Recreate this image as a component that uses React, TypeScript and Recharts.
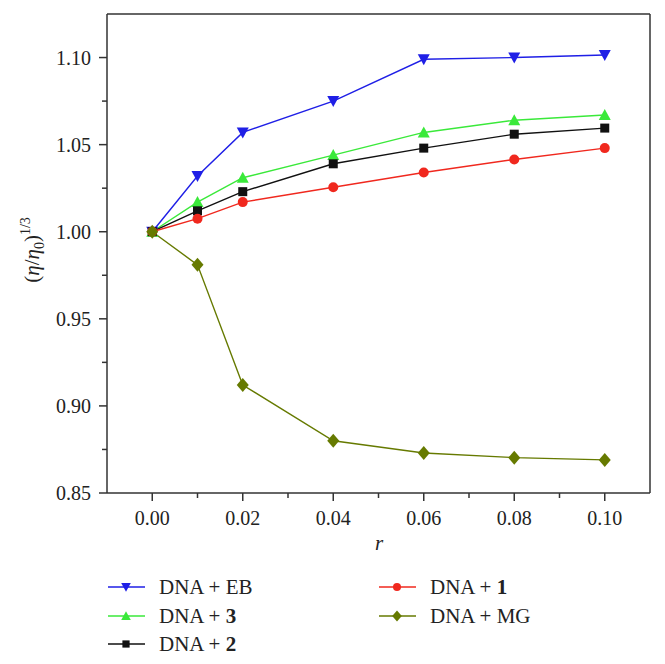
import { LineChart, Line, XAxis, YAxis, ReferenceLine } from 'recharts';

// r (ratio) values on the x axis
const rValues = [0, 0.01, 0.02, 0.04, 0.06, 0.08, 0.1];

// relative viscosity (eta/eta0)^(1/3) per sample
const dnaEB = [1.0, 1.032, 1.057, 1.075, 1.099, 1.1, 1.1015];
const dna3 = [1.0, 1.017, 1.031, 1.044, 1.057, 1.064, 1.067];
const dna2 = [1.0, 1.012, 1.023, 1.039, 1.048, 1.056, 1.0595];
const dna1 = [1.0, 1.0075, 1.017, 1.0255, 1.034, 1.0415, 1.048];
const dnaMG = [1.0, 0.981, 0.912, 0.88, 0.873, 0.8703, 0.869];

const xTicks = [0, 0.01, 0.02, 0.03, 0.04, 0.05, 0.06, 0.07, 0.08, 0.09, 0.1];
const yTicks = [0.85, 0.875, 0.9, 0.925, 0.95, 0.975, 1.0, 1.025, 1.05, 1.075, 1.1];

type Shape = 'down' | 'up' | 'square' | 'circle' | 'diamond';

interface Series {
  key: string;
  name: string;
  bold: string;
  color: string;
  shape: Shape;
  values: number[];
}

const series: Series[] = [
  { key: 'eb', name: 'DNA + ', bold: '', color: '#1f1fe6', shape: 'down', values: dnaEB },
  { key: 's3', name: 'DNA + ', bold: '3', color: '#3ae93a', shape: 'up', values: dna3 },
  { key: 's2', name: 'DNA + ', bold: '2', color: '#111111', shape: 'square', values: dna2 },
  { key: 's1', name: 'DNA + ', bold: '1', color: '#f0281e', shape: 'circle', values: dna1 },
  { key: 'mg', name: 'DNA + ', bold: '', color: '#667a00', shape: 'diamond', values: dnaMG },
];

const legendLabels: Record<string, string> = { eb: 'EB', mg: 'MG' };

// legend layout: [column, row]
const legendSlots: Record<string, [number, number]> = {
  eb: [0, 0], s1: [1, 0], s3: [0, 1], mg: [1, 1], s2: [0, 2],
};

const chartData = rValues.map((r, i) => {
  const row: Record<string, number> = { r };
  for (const s of series) row[s.key] = s.values[i];
  return row;
});

const FONT = 'Liberation Serif, DejaVu Serif, serif';
const AXIS = '#333333';
const INK = '#222222';

function Marker({ cx, cy, shape, color, k = 1 }: { cx: number; cy: number; shape: Shape; color: string; k?: number }) {
  if (cx == null || cy == null) return null;
  switch (shape) {
    case 'down':
      return <polygon points={`${cx - 6 * k},${cy - 5 * k} ${cx + 6 * k},${cy - 5 * k} ${cx},${cy + 6 * k}`} fill={color} />;
    case 'up':
      return <polygon points={`${cx - 6 * k},${cy + 5 * k} ${cx + 6 * k},${cy + 5 * k} ${cx},${cy - 6 * k}`} fill={color} />;
    case 'square':
      return <rect x={cx - 4.5 * k} y={cy - 4.5 * k} width={9 * k} height={9 * k} fill={color} />;
    case 'circle':
      return <circle cx={cx} cy={cy} r={5 * k} fill={color} />;
    default:
      return <polygon points={`${cx},${cy - 7 * k} ${cx + 6 * k},${cy} ${cx},${cy + 7 * k} ${cx - 6 * k},${cy}`} fill={color} />;
  }
}

const XTick = ({ x, y, payload }: any) => {
  const major = Math.round(payload.value * 100) % 2 === 0;
  return (
    <g>
      <line x1={x} x2={x} y1={y} y2={y + (major ? 8 : 5)} stroke={AXIS} strokeWidth={1.5} />
      {major && (
        <text x={x} y={y + 32} textAnchor="middle" style={{ fontFamily: FONT }} fontSize={20} fill={INK}>
          {payload.value.toFixed(2)}
        </text>
      )}
    </g>
  );
};

const YTick = ({ x, y, payload }: any) => {
  const major = Math.round(payload.value * 1000) % 50 === 0;
  return (
    <g>
      <line x1={x} x2={x - (major ? 8 : 5)} y1={y} y2={y} stroke={AXIS} strokeWidth={1.5} />
      {major && (
        <text x={x - 16} y={y} dy="0.35em" textAnchor="end" style={{ fontFamily: FONT }} fontSize={20} fill={INK}>
          {payload.value.toFixed(2)}
        </text>
      )}
    </g>
  );
};

const YLabel = () => (
  <text transform="translate(39, 250) rotate(-90)" textAnchor="middle" style={{ fontFamily: FONT }} fontSize={21} fill={INK}>
    <tspan>(</tspan>
    <tspan fontStyle="italic">η</tspan>
    <tspan>/</tspan>
    <tspan fontStyle="italic">η</tspan>
    <tspan fontSize={14} dy={5}>0</tspan>
    <tspan dy={-5}>)</tspan>
    <tspan fontSize={14} dy={-9}>1/3</tspan>
  </text>
);

const XLabel = () => (
  <text x={379} y={550} textAnchor="middle" style={{ fontFamily: FONT }} fontSize={21} fontStyle="italic" fill={INK}>
    r
  </text>
);

function LegendBox() {
  const colX = [108, 379];
  const rowY = [587, 616, 644];
  return (
    <svg width={665} height={664} style={{ position: 'absolute', left: 0, top: 0, pointerEvents: 'none' }}>
      {series.map((s) => {
        const [c, r] = legendSlots[s.key];
        const x = colX[c];
        const y = rowY[r];
        return (
          <g key={s.key}>
            <line x1={x} x2={x + 37} y1={y} y2={y} stroke={s.color} strokeWidth={1.5} />
            <Marker cx={x + 18} cy={y} shape={s.shape} color={s.color} k={0.8} />
            <text x={x + 51} y={y + 7} style={{ fontFamily: FONT }} fontSize={21} fill={INK}>
              {s.name}
              {s.bold ? <tspan fontWeight="bold">{s.bold}</tspan> : legendLabels[s.key]}
            </text>
          </g>
        );
      })}
    </svg>
  );
}

export default function App() {
  return (
    <div style={{ position: 'relative', width: 665, height: 664, background: '#fff', fontFamily: FONT }}>
      <style>{'body{margin:0}'}</style>
      <LineChart width={665} height={664} data={chartData} margin={{ top: 14, right: 15, bottom: 0, left: 0 }}>
        <XAxis
          dataKey="r"
          type="number"
          domain={[-0.01, 0.11]}
          ticks={xTicks}
          interval={0}
          height={171}
          tickSize={0}
          tickMargin={0}
          tickLine={false}
          tick={<XTick />}
          axisLine={{ stroke: AXIS, strokeWidth: 1.5 }}
          label={<XLabel />}
          allowDataOverflow
        />
        <YAxis
          type="number"
          domain={[0.85, 1.125]}
          ticks={yTicks}
          interval={0}
          width={107}
          tickSize={0}
          tickMargin={0}
          tickLine={false}
          tick={<YTick />}
          axisLine={{ stroke: AXIS, strokeWidth: 1.5 }}
          label={<YLabel />}
          allowDataOverflow
        />
        <ReferenceLine y={1.125} stroke={AXIS} strokeWidth={1.5} />
        <ReferenceLine x={0.11} stroke={AXIS} strokeWidth={1.5} />
        {series.map((s) => (
          <Line
            key={s.key}
            type="linear"
            dataKey={s.key}
            stroke={s.color}
            strokeWidth={1.4}
            isAnimationActive={false}
            activeDot={false}
            dot={(p: any) => <Marker key={`${s.key}-${p.index}`} cx={p.cx} cy={p.cy} shape={s.shape} color={s.color} />}
          />
        ))}
      </LineChart>
      <LegendBox />
    </div>
  );
}
